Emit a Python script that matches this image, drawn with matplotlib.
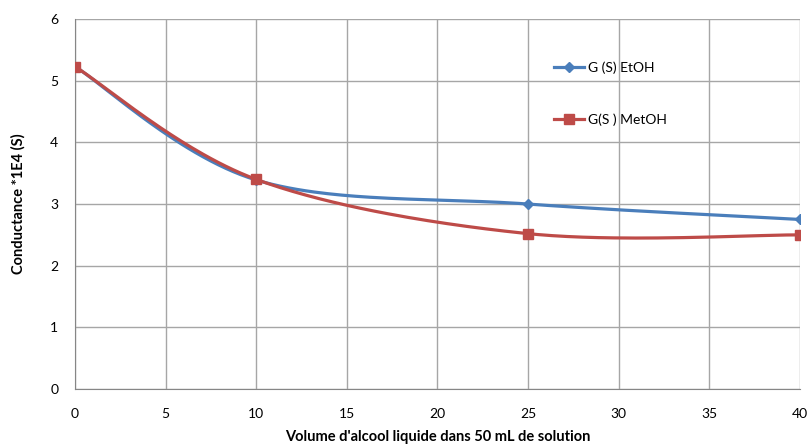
import numpy as np
import matplotlib
matplotlib.use("Agg")
import matplotlib.pyplot as plt

# ============================================================
# DATA
# ============================================================
volume = [0, 10, 25, 40]
g_etoh = [5.23, 3.39, 3.00, 2.75]
g_metoh = [5.23, 3.40, 2.52, 2.50]
label_etoh = "G (S) EtOH"
label_metoh = "G(S ) MetOH"

plt.rcParams['font.family'] = ['Lato', 'DejaVu Sans']


def smooth(xs, ys, sx, sy, n=60):
    # Excel-like smoothing (Catmull-Rom Bezier) computed in screen-scaled space
    p = np.column_stack([np.array(xs) * sx, np.array(ys) * sy])
    pts = np.vstack([p[0], p, p[-1]])
    out = []
    for i in range(1, len(pts) - 2):
        p0, p1, p2, p3 = pts[i - 1], pts[i], pts[i + 1], pts[i + 2]
        c1 = p1 + (p2 - p0) / 6
        c2 = p2 - (p3 - p1) / 6
        t = np.linspace(0, 1, n)[:, None]
        seg = ((1 - t) ** 3) * p1 + 3 * ((1 - t) ** 2) * t * c1 + 3 * (1 - t) * t ** 2 * c2 + t ** 3 * p2
        out.append(seg)
    out = np.vstack(out)
    return out[:, 0] / sx, out[:, 1] / sy


fig = plt.figure(figsize=(8.08, 4.46), dpi=100)
ax = fig.add_axes([0.0928, 0.1278, 0.8972, 0.8294])

sx, sy = 725 / 40, 370 / 6
blue = '#4A7EBB'
red = '#BE4B48'

xe, ye = smooth(volume, g_etoh, sx, sy)
xm, ym = smooth(volume, g_metoh, sx, sy)
ax.plot(xe, ye, color=blue, lw=2.3, zorder=3)
ax.plot(xm, ym, color=red, lw=2.3, zorder=3)
ax.plot(volume, g_etoh, 'D', color=blue, ms=5, zorder=4)
ax.plot(volume, g_metoh, 's', color=red, ms=7, zorder=5)

# legend proxies
h1, = ax.plot([], [], '-D', color=blue, lw=2.3, ms=5)
h2, = ax.plot([], [], '-s', color=red, lw=2.3, ms=7)
ax.legend([h1, h2], [label_etoh, label_metoh], frameon=False, loc='upper left',
          bbox_to_anchor=(0.643, 0.92), fontsize=10, labelspacing=2.85,
          handlelength=2.2, handletextpad=0.3)

ax.set_xlim(0, 40)
ax.set_ylim(0, 6)
ax.set_xticks(range(0, 41, 5))
ax.set_yticks(range(0, 7))
ax.grid(True, color='#A6A6A6', lw=1)
ax.set_axisbelow(True)
for s in ['top', 'right']:
    ax.spines[s].set_visible(False)
for s in ['left', 'bottom']:
    ax.spines[s].set_color('#868686')
ax.tick_params(length=0, labelsize=10, colors='#000000')
ax.tick_params(axis='x', pad=14)
ax.tick_params(axis='y', pad=12)

ax.set_xlabel("Volume d'alcool liquide dans 50 mL de solution", fontsize=10.5,
              fontweight='bold', labelpad=7)
ax.set_ylabel("Conductance *1E4 (S)", fontsize=10.5, fontweight='bold', labelpad=18)

fig.savefig('out.png', dpi=100)
